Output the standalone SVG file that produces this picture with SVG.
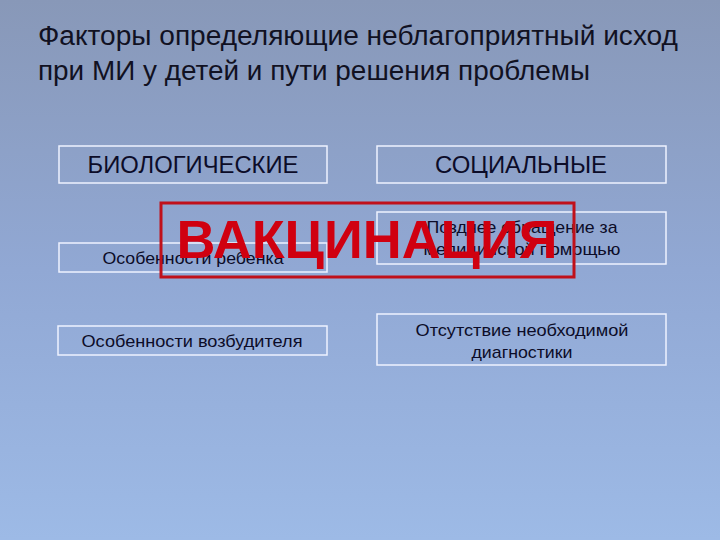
<svg xmlns="http://www.w3.org/2000/svg" width="720" height="540" viewBox="0 0 720 540">
<defs>
<linearGradient id="bg" x1="0" y1="0" x2="0" y2="1">
<stop offset="0" stop-color="#8898b8"/>
<stop offset="0.5" stop-color="#91a8d4"/>
<stop offset="1" stop-color="#9dbae6"/>
</linearGradient>
<style>
.box{fill:none;stroke:#eef2ff;stroke-width:1.5}
.t{font-family:"Liberation Sans",Arial,sans-serif;fill:#0c0c28;text-anchor:middle}
.title{font-family:"Liberation Sans",Arial,sans-serif;fill:#111122;font-size:27px}
</style>
</defs>
<rect width="720" height="540" fill="url(#bg)"/>
<g id="title">
<text class="title" x="38" y="45" textLength="640" lengthAdjust="spacingAndGlyphs">Факторы определяющие неблагоприятный исход</text>
<text class="title" x="38" y="80" textLength="552" lengthAdjust="spacingAndGlyphs">при МИ у детей и пути решения проблемы</text>
</g>
<g id="bio">
<rect class="box" x="59" y="146" width="268" height="37"/>
<text class="t" x="193" y="173" font-size="23" textLength="211" lengthAdjust="spacingAndGlyphs">БИОЛОГИЧЕСКИЕ</text>
</g>
<g id="soc">
<rect class="box" x="377" y="146" width="289" height="37"/>
<text class="t" x="521" y="173" font-size="23" textLength="172" lengthAdjust="spacingAndGlyphs">СОЦИАЛЬНЫЕ</text>
</g>
<g id="child">
<rect class="box" x="59" y="243" width="268" height="29"/>
<text class="t" x="193" y="264" font-size="17" textLength="181" lengthAdjust="spacingAndGlyphs">Особенности ребенка</text>
</g>
<g id="late">
<rect class="box" x="377" y="212" width="289" height="52"/>
<text class="t" x="522" y="233" font-size="17" textLength="191" lengthAdjust="spacingAndGlyphs">Позднее обращение за</text>
<text class="t" x="522" y="255" font-size="17" textLength="197" lengthAdjust="spacingAndGlyphs">медицинской помощью</text>
</g>
<g id="pathogen">
<rect class="box" x="58" y="326" width="269" height="29"/>
<text class="t" x="192" y="347" font-size="17" textLength="221" lengthAdjust="spacingAndGlyphs">Особенности возбудителя</text>
</g>
<g id="diag">
<rect class="box" x="377" y="314" width="289" height="51"/>
<text class="t" x="522" y="336" font-size="17" textLength="213" lengthAdjust="spacingAndGlyphs">Отсутствие необходимой</text>
<text class="t" x="522" y="358" font-size="17" textLength="101" lengthAdjust="spacingAndGlyphs">диагностики</text>
</g>
<g id="vaccination">
<rect x="161" y="203" width="413" height="74" fill="none" stroke="#c0101a" stroke-width="3"/>
<text x="367" y="258" font-family="'Liberation Sans',Arial,sans-serif" font-weight="bold" font-size="53" fill="#d00010" text-anchor="middle" textLength="381" lengthAdjust="spacingAndGlyphs">ВАКЦИНАЦИЯ</text>
</g>
<g id="connectors"/>
</svg>
